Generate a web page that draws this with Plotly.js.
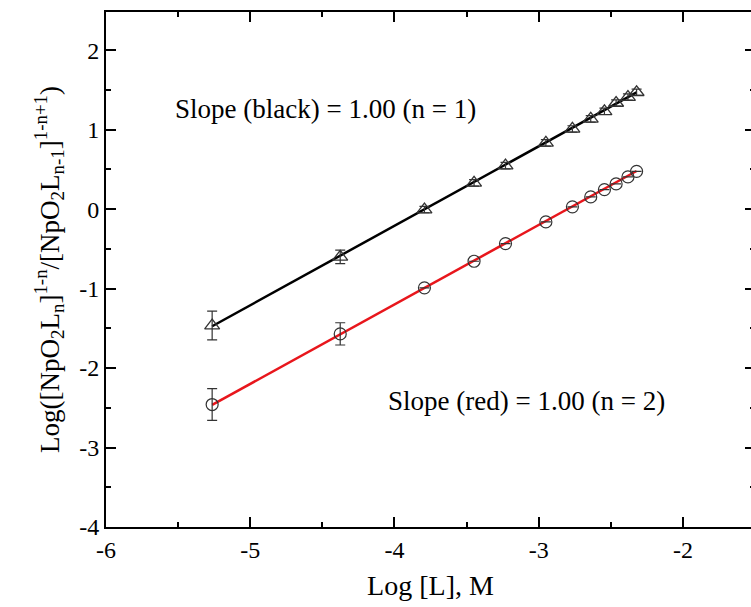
<!DOCTYPE html>
<html>
<head>
<meta charset="utf-8">
<script src="https://cdn.plot.ly/plotly-3.0.1.min.js"></script>
<style>
html, body { margin: 0; padding: 0; overflow: hidden; background: #fff; }
#chart { width: 760px; height: 607px; }
</style>
</head>
<body>
<div id="chart"></div>
<script>
// Data
const logL = [-5.264, -4.376, -3.792, -3.448, -3.230, -2.950, -2.766, -2.639, -2.544, -2.463, -2.381, -2.321];
const blackY = [-1.465, -0.601, -0.006, 0.330, 0.547, 0.833, 1.009, 1.135, 1.230, 1.335, 1.410, 1.470];
const blackErr = [0.18, 0.085, 0.04, 0.04, 0.04, 0.04, 0.04, 0.04, 0.04, 0.04, 0.04, 0.04];
const redY = [-2.459, -1.570, -0.991, -0.656, -0.434, -0.161, 0.028, 0.153, 0.245, 0.317, 0.405, 0.475];
const redErr = [0.20, 0.14, null, null, null, null, null, null, null, null, null, null];
const fitX = [-5.264, -2.321];
const fitBlackY = [-1.474, 1.469];
const fitRedY = [-2.464, 0.479];
const xTickVals = [-6, -5, -4, -3, -2];
const xTickText = ['-6', '-5', '-4', '-3', '-2'];
const yTickVals = [-4, -3, -2, -1, 0, 1, 2];
const yTickText = ['-4', '-3', '-2', '-1', '0', '1', '2'];
const xRange = [-6, -1.5];
const yRange = [-4, 2.48];
const noteBlack = 'Slope (black) = 1.00 (n = 1)';
const noteRed = 'Slope (red) = 1.00 (n = 2)';

const serif = 'Liberation Serif';

function styled(t) {
  return '<span style="font-family:Liberation Serif;font-size:24px;fill:#000">' + t + '</span>';
}

function majorAxis(range, tickvals, ticktext, title, titleSize, standoff) {
  return {
    range: range,
    showgrid: false, zeroline: false,
    showline: true, linecolor: '#000', linewidth: 2,
    mirror: 'ticks',
    tickmode: 'array', tickvals: tickvals, ticktext: ticktext.map(styled),
    ticks: 'inside', ticklen: 10, tickwidth: 2, tickcolor: '#000',
    showticklabels: true,
    tickfont: { family: serif, size: 24, color: '#000' },
    title: { text: title, font: { family: serif, size: titleSize, color: '#000' }, standoff: standoff }
  };
}
function minorAxis(range, overlay, side) {
  return {
    range: range, overlaying: overlay, side: side,
    showgrid: false, zeroline: false,
    showline: false, mirror: 'ticks',
    tickmode: 'linear', tick0: range[0], dtick: 0.5,
    ticks: 'inside', ticklen: 5, tickwidth: 2, tickcolor: '#000',
    showticklabels: false
  };
}

const traces = [
  { x: fitX, y: fitBlackY, mode: 'lines', line: { color: '#000', width: 2.5 }, hoverinfo: 'skip' },
  { x: fitX, y: fitRedY, mode: 'lines', line: { color: '#e8161c', width: 2.5 }, hoverinfo: 'skip' },
  {
    x: logL, y: blackY, mode: 'markers',
    marker: { symbol: 'triangle-up-open', size: 13, color: '#333', line: { width: 1.3, color: '#333' } },
    error_y: { type: 'data', array: blackErr, visible: true, color: '#333', thickness: 1.2, width: 5 }
  },
  {
    x: logL, y: redY, mode: 'markers',
    marker: { symbol: 'circle-open', size: 12, color: '#333', line: { width: 1.2, color: '#333' } },
    error_y: { type: 'data', array: redErr, visible: true, color: '#333', thickness: 1.2, width: 5 }
  },
  { x: fitX, y: fitRedY, xaxis: 'x2', yaxis: 'y2', mode: 'lines', line: { width: 0, color: 'rgba(0,0,0,0)' }, hoverinfo: 'skip' }
];

const layout = {
  width: 760, height: 607,
  margin: { l: 106, r: 5, t: 12, b: 80 },
  paper_bgcolor: '#fff', plot_bgcolor: '#fff',
  showlegend: false,
  font: { family: serif, size: 24, color: '#000' },
  xaxis: majorAxis(xRange, xTickVals, xTickText, 'Log [L], M', 28, 14),
  yaxis: majorAxis(yRange, yTickVals, yTickText,
    'Log([NpO<sub>2</sub>L<sub>n</sub>]<sup>1-n</sup>/[NpO<sub>2</sub>L<sub>n-1</sub>]<sup>1-n+1</sup>)', 27, 12),
  xaxis2: minorAxis(xRange, 'x', 'bottom'),
  yaxis2: minorAxis(yRange, 'y', 'left'),
  annotations: [
    { x: -5.536, y: 1.26, xref: 'x', yref: 'y', text: noteBlack, showarrow: false, xanchor: 'left', yanchor: 'middle',
      font: { family: serif, size: 27, color: '#000' } },
    { x: -4.06, y: -2.41, xref: 'x', yref: 'y', text: noteRed, showarrow: false, xanchor: 'left', yanchor: 'middle',
      font: { family: serif, size: 27, color: '#000' } }
  ]
};

Plotly.newPlot('chart', traces, layout, { displayModeBar: false, staticPlot: true });
</script>
</body>
</html>
